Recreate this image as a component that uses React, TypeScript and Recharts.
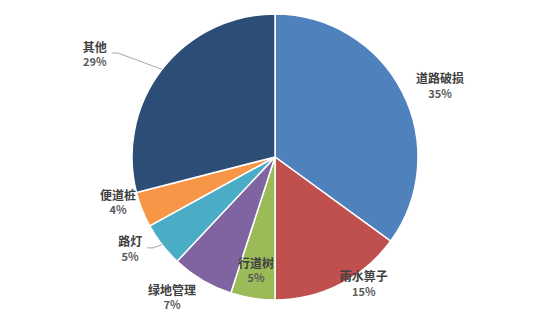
import { Cell, Pie, PieChart } from "recharts";

const categories = ["道路破损", "雨水箅子", "行道树", "绿地管理", "路灯", "便道桩", "其他"];
const shares = [35, 15, 5, 7, 5, 4, 29];
const colors = ["#4F81BD", "#C0504D", "#9BBB59", "#8064A2", "#4BACC6", "#F79646", "#2C4D75"];

// label placement around the pie: radius (px) and angle shift from the slice middle
const labelLayout = [
  { r: 180, da: -3.4, leader: false },
  { r: 154, da: 8.2, leader: false },
  { r: 114, da: -0.6, leader: false },
  { r: 173, da: -5.9, leader: false },
  { r: 171, da: -5.7, leader: true },
  { r: 163, da: -5.9, leader: false },
  { r: 208, da: 7.8, leader: true },
];

const data = categories.map((name, i) => ({ name, value: shares[i] }));

const RAD = Math.PI / 180;
const FONT = '"Noto Sans CJK SC", "Microsoft YaHei", sans-serif';

const renderLabel = (props: any) => {
  const { cx, cy, midAngle, outerRadius, index, name, value } = props;
  const layout = labelLayout[index];
  const a = (midAngle + layout.da) * RAD;
  const x = cx + layout.r * Math.cos(a);
  const y = cy - layout.r * Math.sin(a);
  let leader = null;
  if (layout.leader) {
    const ex = cx + outerRadius * Math.cos(midAngle * RAD);
    const ey = cy - outerRadius * Math.sin(midAngle * RAD);
    const sx = x + (name.length * 12) / 2 + 5;
    leader = (
      <path
        d={`M${sx},${y} L${sx + 6},${y} L${ex},${ey}`}
        stroke="#A6A6A6"
        strokeWidth={1}
        fill="none"
      />
    );
  }
  return (
    <g>
      {leader}
      <text x={x} y={y - 7} textAnchor="middle" dominantBaseline="central"
        fontFamily={FONT} fontSize={12} fontWeight="bold" fill="#404040">
        {name}
      </text>
      <text x={x} y={y + 8} textAnchor="middle" dominantBaseline="central"
        fontFamily={FONT} fontSize={11} fontWeight="bold" fill="#595959">
        {value}%
      </text>
    </g>
  );
};

export default function App() {
  return (
    <div style={{ position: "absolute", left: 0, top: 0, width: 550, height: 315, background: "#fff" }}>
      <PieChart width={550} height={315} margin={{ top: 0, right: 0, bottom: 0, left: 0 }}>
        <Pie
          data={data}
          dataKey="value"
          nameKey="name"
          cx={275}
          cy={157}
          outerRadius={143}
          startAngle={90}
          endAngle={-270}
          stroke="#fff"
          strokeWidth={1.5}
          label={renderLabel}
          labelLine={false}
          isAnimationActive={false}
        >
          {data.map((d, i) => (
            <Cell key={d.name} fill={colors[i]} />
          ))}
        </Pie>
      </PieChart>
    </div>
  );
}
